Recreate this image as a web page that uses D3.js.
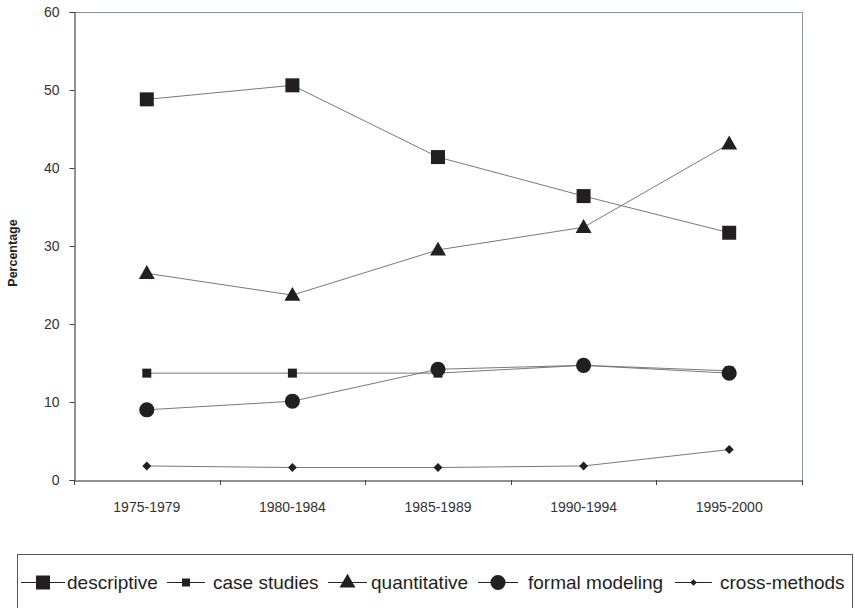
<!DOCTYPE html>
<html><head><meta charset="utf-8">
<script src="https://cdn.jsdelivr.net/npm/d3@7"></script>
<style>
body{margin:0;background:#fff;}
svg{display:block;font-family:"Liberation Sans",Arial,sans-serif;}
</style></head>
<body><svg id="c" width="855" height="608"></svg>
<script>
const categories = ["1975-1979","1980-1984","1985-1989","1990-1994","1995-2000"];
const seriesNames = ["descriptive","case studies","quantitative","formal modeling","cross-methods"];
const descriptive = [48.8, 50.6, 41.4, 36.4, 31.7];
const caseStudies = [13.7, 13.7, 13.7, 14.7, 14.0];
const quantitative = [26.5, 23.7, 29.5, 32.4, 43.1];
const formalModeling = [9.0, 10.1, 14.2, 14.7, 13.7];
const crossMethods = [1.8, 1.6, 1.6, 1.8, 3.9];
const yTicks = [0, 10, 20, 30, 40, 50, 60];

const seriesValues = [descriptive, caseStudies, quantitative, formalModeling, crossMethods];
const markers = [
  {type: d3.symbolSquare, size: 196, rot: 0},
  {type: d3.symbolSquare, size: 81, rot: 0},
  {type: d3.symbolTriangle, size: 110, rot: 0},
  {type: d3.symbolCircle, size: 180, rot: 0},
  {type: d3.symbolSquare, size: 40, rot: 45}
];

const svg = d3.select("#c");
const L = 74, R = 802, T = 12, B = 480;
const x = d3.scaleBand().domain(categories).range([L, R]);
const y = d3.scaleLinear().domain([0, 60]).range([B, T]);

// frame (top and right)
svg.append("line").attr("x1", L).attr("x2", R).attr("y1", T + 0.5).attr("y2", T + 0.5)
  .attr("stroke", "#8a94a3").attr("stroke-width", 1);
svg.append("line").attr("x1", R + 0.5).attr("x2", R + 0.5).attr("y1", T).attr("y2", B)
  .attr("stroke", "#8a94a3").attr("stroke-width", 1);

// y axis
const yAxis = svg.append("g").attr("transform", `translate(${L + 0.5},0)`)
  .call(d3.axisLeft(y).tickValues(yTicks).tickSize(5).tickPadding(10).tickFormat(d3.format("d")));
yAxis.select(".domain").attr("stroke", "#222");
yAxis.selectAll(".tick line").attr("stroke", "#444");
yAxis.selectAll(".tick text").attr("font-size", 14).attr("fill", "#333")
  .attr("font-family", "'Liberation Sans', Arial, sans-serif");

// x axis
const xAxis = svg.append("g").attr("transform", `translate(0,${B + 0.5})`)
  .call(d3.axisBottom(x).tickSize(0).tickPadding(22));
xAxis.select(".domain").attr("stroke", "#222");
xAxis.selectAll(".tick text").attr("font-size", 14).attr("fill", "#333")
  .attr("font-family", "'Liberation Sans', Arial, sans-serif");
// boundary tick marks between categories
const bounds = categories.map(c => x(c)).concat([R]);
svg.append("g").selectAll("line").data(bounds).join("line")
  .attr("x1", d => Math.round(d) + 0.5).attr("x2", d => Math.round(d) + 0.5)
  .attr("y1", B).attr("y2", B + 5).attr("stroke", "#444");

// y title
svg.append("text").attr("transform", `translate(17,${(T + B) / 2 + 7}) rotate(-90)`)
  .attr("text-anchor", "middle").attr("font-weight", "bold").attr("font-size", 12.5)
  .attr("fill", "#222").text("Percentage");

const cx = c => x(c) + x.bandwidth() / 2;
const line = d3.line().x((d, i) => cx(categories[i])).y(d => y(d));

seriesValues.forEach((vals, s) => {
  svg.append("path").datum(vals).attr("d", line)
    .attr("fill", "none").attr("stroke", "#6a6a6a").attr("stroke-width", 0.9);
});
seriesValues.forEach((vals, s) => {
  const sym = d3.symbol().type(markers[s].type).size(markers[s].size);
  svg.append("g").selectAll("path").data(vals).join("path")
    .attr("d", sym)
    .attr("transform", (d, i) => `translate(${cx(categories[i])},${y(d) + (s === 2 ? 1 : 0)}) rotate(${markers[s].rot})`)
    .attr("fill", "#231f20");
});

// legend
const lg = svg.append("g");
lg.append("rect").attr("x", 17.5).attr("y", 554.5).attr("width", 835).attr("height", 70)
  .attr("fill", "none").attr("stroke", "#555");
const itemX = [21, 167, 328, 478, 675];
const textOff = [46, 46, 43, 50, 45];
const lineLen = [44, 38, 39, 40, 37];
const legMarkerSize = [196, 64, 110, 180, 22];
seriesNames.forEach((name, s) => {
  const g = lg.append("g").attr("transform", `translate(${itemX[s]},582)`);
  g.append("line").attr("x1", 0).attr("x2", lineLen[s]).attr("y1", 0.5).attr("y2", 0.5)
    .attr("stroke", "#222").attr("stroke-width", 1);
  g.append("path").attr("d", d3.symbol().type(markers[s].type).size(legMarkerSize[s]))
    .attr("transform", `translate(${lineLen[s] / 2},${s === 2 ? 1 : 0.5}) rotate(${markers[s].rot})`).attr("fill", "#231f20");
  g.append("text").attr("x", textOff[s]).attr("y", 7).attr("font-size", 19)
    .attr("fill", "#231f20").text(name);
});
</script></body></html>
